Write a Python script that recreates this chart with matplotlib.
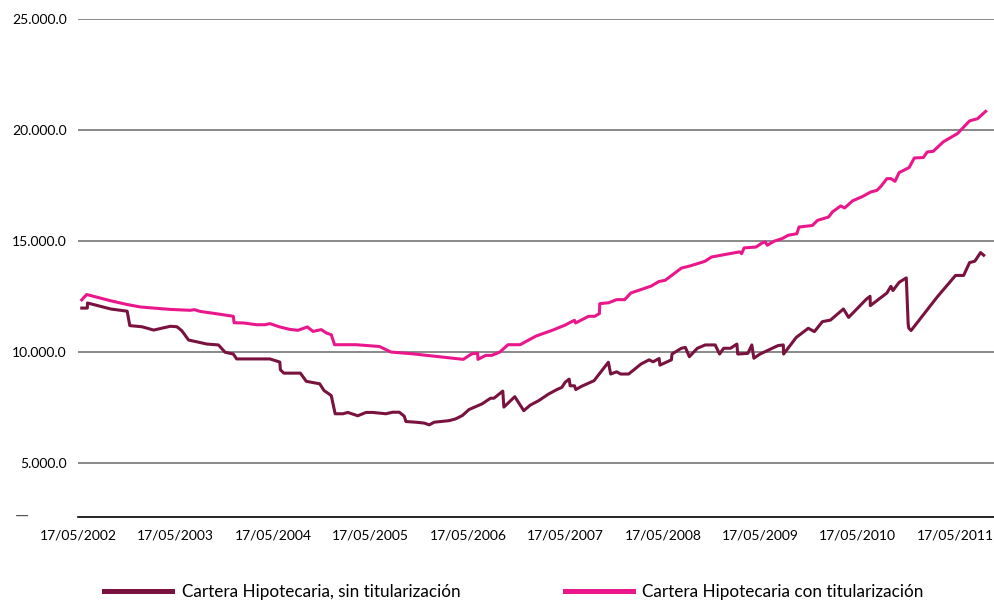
import matplotlib
matplotlib.use("Agg")
import matplotlib.pyplot as plt
from matplotlib.ticker import FuncFormatter

plt.rcParams['font.family'] = ['Lato', 'DejaVu Sans']

# ── DATA (x in decimal years, values in millions) ───────────────────────────

sin_x = [2002.411, 2002.468, 2002.470, 2002.707, 2002.877, 2002.904, 2003.027, 2003.149,
         2003.320, 2003.387, 2003.438, 2003.507, 2003.592, 2003.694, 2003.813, 2003.882,
         2003.966, 2004.000, 2004.341, 2004.443, 2004.449, 2004.484, 2004.654, 2004.715,
         2004.852, 2004.896, 2004.971, 2005.011, 2005.090, 2005.141, 2005.243, 2005.328,
         2005.396, 2005.532, 2005.601, 2005.669, 2005.720, 2005.737, 2005.839, 2005.925,
         2005.976, 2006.027, 2006.180, 2006.247, 2006.316, 2006.384, 2006.520, 2006.605,
         2006.640, 2006.731, 2006.742, 2006.854, 2006.946, 2007.013, 2007.099, 2007.201,
         2007.286, 2007.337, 2007.371, 2007.412, 2007.422, 2007.467, 2007.480, 2007.541,
         2007.667, 2007.814, 2007.838, 2007.899, 2007.940, 2008.022, 2008.149, 2008.232,
         2008.273, 2008.335, 2008.343, 2008.461, 2008.467, 2008.563, 2008.604, 2008.645,
         2008.727, 2008.808, 2008.910, 2008.955, 2008.997, 2009.067, 2009.133, 2009.141,
         2009.245, 2009.286, 2009.307, 2009.370, 2009.554, 2009.609, 2009.612, 2009.742,
         2009.865, 2009.928, 2010.010, 2010.093, 2010.226, 2010.279, 2010.463, 2010.499,
         2010.502, 2010.672, 2010.713, 2010.734, 2010.797, 2010.871, 2010.890, 2010.897,
         2010.920, 2011.188, 2011.376, 2011.459, 2011.520, 2011.574, 2011.633, 2011.665]
sin_y = [11980, 11980, 12210, 11940, 11840, 11190, 11140, 10990,
         11160, 11140, 10960, 10540, 10460, 10360, 10320, 9990,
         9910, 9690, 9690, 9550, 9200, 9050, 9050, 8680,
         8570, 8270, 8040, 7220, 7220, 7280, 7130, 7280,
         7280, 7220, 7290, 7290, 7110, 6870, 6840, 6800,
         6720, 6840, 6910, 6990, 7140, 7410, 7670, 7920,
         7920, 8240, 7520, 7990, 7360, 7610, 7810, 8110,
         8310, 8410, 8640, 8780, 8480, 8480, 8310, 8460,
         8710, 9540, 9010, 9110, 9010, 9010, 9460, 9650,
         9560, 9710, 9410, 9650, 9910, 10170, 10210, 9790,
         10170, 10320, 10320, 9910, 10170, 10170, 10360, 9910,
         9940, 10320, 9720, 9910, 10290, 10320, 9910, 10660,
         11070, 10920, 11370, 11440, 11940, 11560, 12390, 12510,
         12090, 12660, 12960, 12770, 13140, 13340, 11260, 11070,
         10970, 12480, 13450, 13450, 14030, 14090, 14480, 14360]

con_x = [2002.411, 2002.462, 2002.707, 2002.877, 2003.013, 2003.149, 2003.320, 2003.524,
         2003.568, 2003.626, 2003.831, 2003.966, 2003.974, 2004.069, 2004.205, 2004.290,
         2004.341, 2004.443, 2004.546, 2004.630, 2004.725, 2004.784, 2004.868, 2004.920,
         2004.971, 2005.005, 2005.226, 2005.465, 2005.584, 2005.805, 2006.326, 2006.412,
         2006.473, 2006.476, 2006.556, 2006.618, 2006.701, 2006.784, 2006.908, 2007.072,
         2007.239, 2007.363, 2007.466, 2007.478, 2007.611, 2007.673, 2007.722, 2007.726,
         2007.817, 2007.899, 2007.981, 2008.045, 2008.253, 2008.335, 2008.397, 2008.563,
         2008.645, 2008.801, 2008.873, 2009.018, 2009.161, 2009.181, 2009.207, 2009.329,
         2009.390, 2009.423, 2009.445, 2009.513, 2009.597, 2009.659, 2009.748, 2009.770,
         2009.907, 2009.960, 2010.073, 2010.113, 2010.197, 2010.238, 2010.320, 2010.424,
         2010.507, 2010.569, 2010.610, 2010.672, 2010.713, 2010.755, 2010.797, 2010.900,
         2010.953, 2011.045, 2011.086, 2011.147, 2011.251, 2011.396, 2011.520, 2011.602,
         2011.685]
con_y = [12350, 12590, 12310, 12140, 12030, 11980, 11920, 11880,
         11910, 11830, 11700, 11610, 11320, 11310, 11230, 11230,
         11280, 11130, 11020, 10980, 11130, 10930, 11010, 10860,
         10780, 10330, 10330, 10250, 10000, 9920, 9670, 9920,
         9950, 9670, 9850, 9850, 10000, 10330, 10330, 10720,
         10980, 11200, 11430, 11310, 11610, 11610, 11730, 12180,
         12220, 12360, 12360, 12660, 12970, 13180, 13230, 13780,
         13870, 14080, 14280, 14400, 14510, 14430, 14690, 14730,
         14910, 14960, 14810, 14990, 15110, 15260, 15330, 15630,
         15700, 15930, 16080, 16310, 16580, 16490, 16810, 17010,
         17210, 17280, 17460, 17810, 17810, 17690, 18080, 18310,
         18740, 18760, 19010, 19040, 19470, 19840, 20410, 20510,
         20840]

tick_years = [2002, 2003, 2004, 2005, 2006, 2007, 2008, 2009, 2010, 2011]
tick_labels = [f"17/05/{y}" for y in tick_years]
y_ticks = [5000, 10000, 15000, 20000, 25000]

label_sin = "Cartera Hipotecaria, sin titularización"
label_con = "Cartera Hipotecaria con titularización"

color_sin = "#7a1240"
color_con = "#ea168c"

# ── PLOT ─────────────────────────────────────────────────────────────────────

fig = plt.figure(figsize=(9.95, 6.03), dpi=100)
ax = fig.add_axes([0.0784, 0.1426, 0.9216, 0.8259])

ax.plot(sin_x, sin_y, color=color_sin, lw=2.2, label=label_sin, zorder=3)
ax.plot(con_x, con_y, color=color_con, lw=2.2, label=label_con, zorder=3)

ax.set_xlim(2002.408, 2011.781)
ax.set_ylim(2570, 25000)

# 17/05 is day 137 of the year
ax.set_xticks([y + 136 / 365 for y in tick_years])
ax.set_xticklabels(tick_labels)
ax.set_yticks(y_ticks)
ax.yaxis.set_major_formatter(FuncFormatter(lambda v, p: f"{v:,.1f}".replace(",", ".")))
ax.tick_params(axis='both', length=0, labelsize=10, colors='black')
ax.tick_params(axis='y', pad=8)
ax.tick_params(axis='x', pad=9)

ax.grid(axis='y', color='#808080', lw=1.3, zorder=1)
ax.set_axisbelow(True)
for side in ['top', 'right', 'left']:
    ax.spines[side].set_visible(False)
ax.spines['bottom'].set_color('black')
ax.spines['bottom'].set_linewidth(1.2)

# zero-style dash label at the axis base
fig.text(22 / 995, 1 - 516 / 603, "—", ha='center', va='center', fontsize=13, color='#555555')

fig.legend(loc='center left', bbox_to_anchor=(104 / 995, 1 - 592 / 603), ncol=2,
           frameon=False, fontsize=12.3, handlelength=4.0, handletextpad=0.55,
           columnspacing=6.1, borderaxespad=0, borderpad=0)
for line in fig.legends[0].get_lines():
    line.set_linewidth(3.6)

fig.savefig("out.png", dpi=100)
